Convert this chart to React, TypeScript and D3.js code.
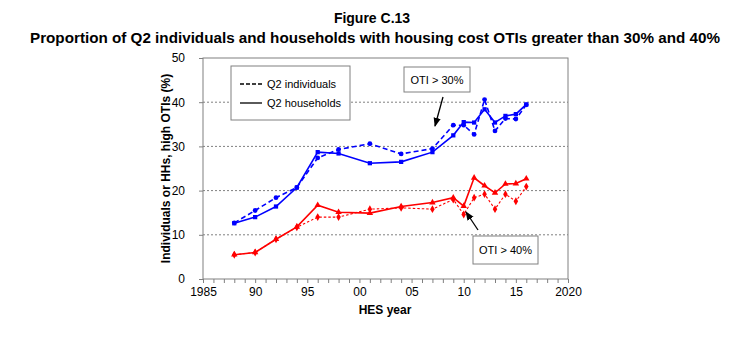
import * as d3 from 'd3';
import { useRef, useEffect } from 'react';

// HES survey years and proportions (%) with housing cost OTI above threshold
const years = [1988, 1990, 1992, 1994, 1996, 1998, 2001, 2004, 2007, 2009, 2010, 2011, 2012, 2013, 2014, 2015, 2016];
const indiv30 = [12.7, 15.5, 18.4, 20.7, 27.4, 29.3, 30.6, 28.3, 29.5, 34.8, 34.8, 32.7, 40.6, 33.5, 36.3, 36.2, 39.4];
const hh30 = [12.6, 14.0, 16.4, 20.7, 28.7, 28.4, 26.2, 26.5, 28.7, 32.5, 35.5, 35.4, 38.4, 35.4, 36.9, 37.3, 39.5];
const indiv40 = [5.5, 6.0, 9.0, 11.7, 14.0, 14.0, 15.8, 16.1, 15.8, 18.0, 14.6, 18.4, 19.2, 15.8, 19.2, 17.6, 20.9];
const hh40 = [5.5, 6.0, 9.0, 11.8, 16.7, 15.1, 14.9, 16.4, 17.3, 18.4, 16.5, 22.9, 21.1, 19.5, 21.5, 21.6, 22.7];

const yTicks = [0, 10, 20, 30, 40, 50];
const xTicks = [1985, 1990, 1995, 2000, 2005, 2010, 2015, 2020];
const xTickLabels = ['1985', '90', '95', '00', '05', '10', '15', '2020'];

const W = 745, H = 350;
const m = { left: 203, right: 568, top: 58, bottom: 279 };
const font = '"Liberation Sans", Arial, sans-serif';
const BLUE = '#0000ff';
const RED = '#ff0000';

const App = () => {
  const xAxisRef = useRef<SVGGElement>(null);
  const yAxisRef = useRef<SVGGElement>(null);

  const x = d3.scaleLinear().domain([1985, 2020]).range([m.left, m.right]);
  const y = d3.scaleLinear().domain([0, 50]).range([m.bottom, m.top]);

  useEffect(() => {
    // minor ticks every year, labels every 5
    const xa = d3.axisBottom(x)
      .tickValues(d3.range(1985, 2021))
      .tickSize(4)
      .tickFormat((d) => {
        const i = xTicks.indexOf(+d);
        return i >= 0 ? xTickLabels[i] : '';
      });
    const gx = d3.select(xAxisRef.current!).call(xa);
    gx.select('.domain').remove();
    gx.selectAll('line').attr('stroke', '#808080');
    gx.selectAll('text').attr('font-family', font).attr('font-size', 12).attr('fill', '#000').attr('dy', '0.85em');

    const ya = d3.axisLeft(y).tickValues(yTicks).tickSize(4).tickPadding(14);
    const gy = d3.select(yAxisRef.current!).call(ya);
    gy.select('.domain').remove();
    gy.selectAll('line').attr('stroke', '#808080');
    gy.selectAll('text').attr('font-family', font).attr('font-size', 12).attr('fill', '#000');
  }, []);

  const line = d3.line<number>().x((_, i) => x(years[i])).y((d) => y(d));

  const series = [
    { values: indiv30, color: BLUE, dash: '5,3', width: 1.6, shape: d3.symbolCircle },
    { values: hh30, color: BLUE, dash: null, width: 1.6, shape: d3.symbolSquare },
    { values: indiv40, color: RED, dash: '2.5,2', width: 1.1, shape: d3.symbolDiamond },
    { values: hh40, color: RED, dash: null, width: 1.6, shape: d3.symbolTriangle },
  ];

  return (
    <svg width={W} height={H} style={{ position: 'absolute', left: 0, top: 0, background: '#fff' }}>
      <text x={372} y={23} textAnchor="middle" fontFamily={font} fontSize={14} fontWeight="bold">Figure C.13</text>
      <text x={375} y={43} textAnchor="middle" fontFamily={font} fontSize={15} fontWeight="bold"
        textLength={690} lengthAdjust="spacingAndGlyphs">
        Proportion of Q2 individuals and households with housing cost OTIs greater than 30% and 40%
      </text>

      {/* gridlines */}
      {yTicks.filter((t) => t > 0 && t < 50).map((t) => (
        <line key={t} x1={m.left} x2={m.right} y1={y(t)} y2={y(t)} stroke="#808080" strokeDasharray="2,2" />
      ))}
      <rect x={m.left} y={m.top} width={m.right - m.left} height={m.bottom - m.top} fill="none" stroke="#808080" />

      <g ref={xAxisRef} transform={`translate(0,${m.bottom})`} />
      <g ref={yAxisRef} transform={`translate(${m.left},0)`} />

      {series.map((s, k) => (
        <g key={k}>
          <path d={line(s.values)!} fill="none" stroke={s.color} strokeWidth={s.width}
            strokeDasharray={s.dash ?? undefined} />
          {s.values.map((v, i) => (
            <path key={i} d={d3.symbol(s.shape, 18)()!} fill={s.color}
              transform={`translate(${x(years[i])},${y(v)})`} />
          ))}
        </g>
      ))}

      {/* legend */}
      <rect x={231} y={66} width={119} height={54} fill="#fff" stroke="#808080" />
      <line x1={240} x2={262} y1={84} y2={84} stroke="#000" strokeWidth={1.3} strokeDasharray="4,2" />
      <line x1={240} x2={262} y1={103} y2={103} stroke="#000" strokeWidth={1.3} />
      <text x={267} y={88} fontFamily={font} fontSize={11}>Q2 individuals</text>
      <text x={267} y={107} fontFamily={font} fontSize={11}>Q2 households</text>

      {/* annotations */}
      <defs>
        <marker id="arr" viewBox="0 0 10 10" refX="9" refY="5" markerWidth="7" markerHeight="7" orient="auto">
          <path d="M0,1 L10,5 L0,9 z" fill="#000" />
        </marker>
      </defs>
      <rect x={404} y={67} width={66} height={25} fill="#fff" stroke="#808080" />
      <text x={437} y={83.5} textAnchor="middle" fontFamily={font} fontSize={11}>OTI &gt; 30%</text>
      <line x1={443} y1={97} x2={435} y2={126} stroke="#000" strokeWidth={1.3} markerEnd="url(#arr)" />
      <rect x={473} y={236} width={65} height={28} fill="#fff" stroke="#808080" />
      <text x={505.5} y={254} textAnchor="middle" fontFamily={font} fontSize={11}>OTI &gt; 40%</text>
      <line x1={478} y1={230} x2={466} y2={212} stroke="#000" strokeWidth={1.3} markerEnd="url(#arr)" />

      {/* axis titles */}
      <text x={385} y={314} textAnchor="middle" fontFamily={font} fontSize={12} fontWeight="bold">HES year</text>
      <text transform={`translate(170,${(m.top + m.bottom) / 2}) rotate(-90)`} textAnchor="middle"
        fontFamily={font} fontSize={12} fontWeight="bold">Individuals or HHs, high OTIs (%)</text>
    </svg>
  );
};

export default App;
